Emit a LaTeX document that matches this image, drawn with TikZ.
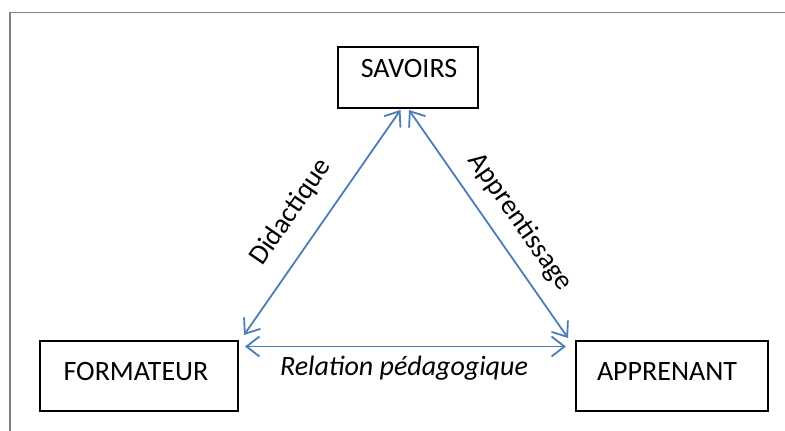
\documentclass[tikz,border=0pt]{standalone}
\usepackage{fontspec}
\setmainfont{Carlito}
\usetikzlibrary{arrows.meta}
\definecolor{officeblue}{HTML}{4A7EBB}
\definecolor{framegray}{HTML}{808080}
\tikzset{
  box/.style={draw=black, line width=2pt, inner sep=0pt},
  lbl/.style={inner sep=0pt, font=\fontsize{28}{33}\selectfont, anchor=base},
  rlbl/.style={inner sep=0pt, font=\fontsize{28}{33}\selectfont},
  link/.style={draw=officeblue, line width=1.8pt,
    {Straight Barb[length=13pt,width=20pt]}-{Straight Barb[length=13pt,width=20pt]}},
}
\begin{document}
\begin{tikzpicture}[x=1pt,y=-1pt]
\useasboundingbox (0,0) rectangle (785,431);
\fill[white] (0,0) rectangle (785,431);
% frame (only top and left visible)
\draw[framegray, line width=1.2pt] (785,12.5) coordinate (fr) -- (10,12.5) coordinate (ftl) -- (10,431) coordinate (fb);
% boxes
\node[box, minimum width=140pt, minimum height=61pt] (sav) at (408,77.5) {};
\node[box, minimum width=198pt, minimum height=70pt] (form) at (139,376) {};
\node[box, minimum width=192pt, minimum height=70pt] (app) at (672,376) {};
% box texts
\node[lbl] (tsav) at (409,77.5) {SAVOIRS};
\node[lbl] (tform) at (136,380.5) {FORMATEUR};
\node[lbl] (tapp) at (667,380.5) {APPRENANT};
% arrow end points
\coordinate (s1) at (400.5,110);
\coordinate (s2) at (409,110);
\coordinate (f1) at (244,335);
\coordinate (f2) at (245,346.5);
\coordinate (a1) at (568,338);
\coordinate (a2) at (566,346.5);
\draw[link] (s1) -- (f1);
\draw[link] (s2) -- (a1);
\draw[link] (f2) -- (a2);
% labels
\node[rlbl, rotate=55.5] (ldid) at (291,212) {Didactique};
\node[rlbl, rotate=-55.1] (lapp) at (520,222) {Apprentissage};
\node[lbl, font=\fontsize{28}{33}\selectfont\itshape] (lrel) at (404,375.5) {Relation pédagogique};
\end{tikzpicture}
\end{document}
